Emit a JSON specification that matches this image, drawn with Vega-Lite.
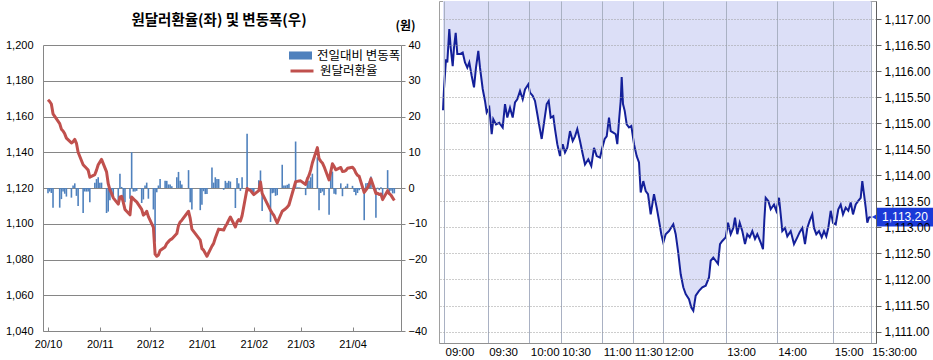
{
  "$schema": "https://vega.github.io/schema/vega-lite/v6.json",
  "padding": {"left": 5, "top": 0, "right": 0, "bottom": 0},
  "spacing": 11,
  "background": "#ffffff",
  "config": {"font": "Liberation Sans", "axis": {"labelColor": "#000000"}},
  "datasets": {
    "daily": [
      {"d":"2020-10-05","r":1169.4,"c":-1.5},{"d":"2020-10-06","r":1168.4,"c":-1.0},{"d":"2020-10-07","r":1167.0,"c":-1.4},{"d":"2020-10-08","r":1161.5,"c":-5.5},
      {"d":"2020-10-12","r":1156.0,"c":-5.5},{"d":"2020-10-13","r":1152.9,"c":-3.1},{"d":"2020-10-14","r":1151.9,"c":-1.0},{"d":"2020-10-15","r":1150.3,"c":-1.6},{"d":"2020-10-16","r":1147.9,"c":-2.4},
      {"d":"2020-10-19","r":1145.2,"c":-2.7},{"d":"2020-10-20","r":1145.9,"c":0.7},{"d":"2020-10-21","r":1147.2,"c":1.3},{"d":"2020-10-22","r":1145.0,"c":-2.2},{"d":"2020-10-23","r":1140.0,"c":-5.0},
      {"d":"2020-10-26","r":1133.0,"c":-7.0},{"d":"2020-10-27","r":1132.0,"c":-1.0},{"d":"2020-10-28","r":1131.0,"c":-1.0},{"d":"2020-10-29","r":1130.0,"c":-1.0},{"d":"2020-10-30","r":1126.0,"c":-4.0},
      {"d":"2020-11-02","r":1127.5,"c":1.5},{"d":"2020-11-03","r":1130.0,"c":2.5},{"d":"2020-11-04","r":1133.0,"c":3.0},{"d":"2020-11-05","r":1134.5,"c":1.5},{"d":"2020-11-06","r":1136.0,"c":1.5},
      {"d":"2020-11-09","r":1129.0,"c":-7.0},{"d":"2020-11-10","r":1122.4,"c":-6.6},{"d":"2020-11-11","r":1119.0,"c":-3.4},{"d":"2020-11-12","r":1117.0,"c":-2.0},{"d":"2020-11-13","r":1114.5,"c":-2.5},
      {"d":"2020-11-16","r":1111.0,"c":-3.5},{"d":"2020-11-17","r":1115.0,"c":4.0},{"d":"2020-11-18","r":1115.3,"c":0.3},{"d":"2020-11-19","r":1112.0,"c":-3.3},{"d":"2020-11-20","r":1108.0,"c":-4.0},
      {"d":"2020-11-23","r":1105.0,"c":-3.0},{"d":"2020-11-24","r":1115.0,"c":10.0},{"d":"2020-11-25","r":1114.0,"c":-1.0},{"d":"2020-11-26","r":1113.0,"c":-1.0},{"d":"2020-11-27","r":1112.2,"c":-0.8},
      {"d":"2020-11-30","r":1108.0,"c":-4.2},{"d":"2020-12-01","r":1104.8,"c":-3.2},{"d":"2020-12-02","r":1105.5,"c":0.7},{"d":"2020-12-03","r":1107.0,"c":1.5},{"d":"2020-12-04","r":1104.0,"c":-3.0},
      {"d":"2020-12-07","r":1098.0,"c":-6.0},{"d":"2020-12-08","r":1083.0,"c":-15.0},{"d":"2020-12-09","r":1081.8,"c":-1.2},{"d":"2020-12-10","r":1082.5,"c":0.7},{"d":"2020-12-11","r":1085.0,"c":2.5},
      {"d":"2020-12-14","r":1087.0,"c":2.0},{"d":"2020-12-15","r":1089.0,"c":2.0},{"d":"2020-12-16","r":1090.0,"c":1.0},{"d":"2020-12-17","r":1091.0,"c":1.0},{"d":"2020-12-18","r":1091.5,"c":0.5},
      {"d":"2020-12-21","r":1094.5,"c":3.0},{"d":"2020-12-22","r":1099.0,"c":4.5},{"d":"2020-12-23","r":1101.0,"c":2.0},{"d":"2020-12-24","r":1102.0,"c":1.0},
      {"d":"2020-12-28","r":1107.0,"c":5.0},{"d":"2020-12-29","r":1103.0,"c":-4.0},{"d":"2020-12-30","r":1097.0,"c":-6.0},
      {"d":"2021-01-04","r":1090.8,"c":-6.2},{"d":"2021-01-05","r":1086.1,"c":-4.7},{"d":"2021-01-06","r":1085.2,"c":-0.9},{"d":"2021-01-07","r":1083.5,"c":-1.7},{"d":"2021-01-08","r":1081.8,"c":-1.7},
      {"d":"2021-01-11","r":1087.5,"c":5.7},{"d":"2021-01-12","r":1089.0,"c":1.5},{"d":"2021-01-13","r":1092.0,"c":3.0},{"d":"2021-01-14","r":1094.5,"c":2.5},{"d":"2021-01-15","r":1097.0,"c":2.5},
      {"d":"2021-01-18","r":1096.5,"c":-0.5},{"d":"2021-01-19","r":1098.5,"c":2.0},{"d":"2021-01-20","r":1100.0,"c":1.5},{"d":"2021-01-21","r":1102.0,"c":2.0},{"d":"2021-01-22","r":1103.8,"c":1.8},
      {"d":"2021-01-25","r":1098.2,"c":-5.6},{"d":"2021-01-26","r":1101.0,"c":2.8},{"d":"2021-01-27","r":1102.3,"c":1.3},{"d":"2021-01-28","r":1101.5,"c":-0.8},{"d":"2021-01-29","r":1104.5,"c":3.0},
      {"d":"2021-02-01","r":1119.7,"c":15.2},{"d":"2021-02-02","r":1119.0,"c":-0.7},{"d":"2021-02-03","r":1118.7,"c":-0.3},{"d":"2021-02-04","r":1117.5,"c":-1.2},{"d":"2021-02-05","r":1116.3,"c":-1.2},
      {"d":"2021-02-08","r":1118.5,"c":2.2},{"d":"2021-02-09","r":1123.4,"c":4.9},{"d":"2021-02-10","r":1117.0,"c":-6.4},
      {"d":"2021-02-15","r":1107.5,"c":-9.5},{"d":"2021-02-16","r":1106.0,"c":-1.5},{"d":"2021-02-17","r":1104.7,"c":-1.3},{"d":"2021-02-18","r":1102.5,"c":-2.2},{"d":"2021-02-19","r":1100.5,"c":-2.0},
      {"d":"2021-02-22","r":1107.0,"c":6.5},{"d":"2021-02-23","r":1107.7,"c":0.7},{"d":"2021-02-24","r":1108.4,"c":0.7},{"d":"2021-02-25","r":1109.3,"c":0.9},{"d":"2021-02-26","r":1110.5,"c":1.2},
      {"d":"2021-03-02","r":1123.5,"c":13.0},{"d":"2021-03-03","r":1123.7,"c":0.2},{"d":"2021-03-04","r":1123.9,"c":0.2},{"d":"2021-03-05","r":1124.0,"c":0.1},
      {"d":"2021-03-08","r":1122.0,"c":-2.0},{"d":"2021-03-09","r":1125.0,"c":3.0},{"d":"2021-03-10","r":1127.0,"c":2.0},{"d":"2021-03-11","r":1130.0,"c":3.0},{"d":"2021-03-12","r":1134.0,"c":4.0},
      {"d":"2021-03-15","r":1142.6,"c":8.6},{"d":"2021-03-16","r":1136.4,"c":-6.2},{"d":"2021-03-17","r":1135.0,"c":-1.4},{"d":"2021-03-18","r":1134.0,"c":-1.0},{"d":"2021-03-19","r":1132.0,"c":-2.0},
      {"d":"2021-03-22","r":1124.5,"c":-7.5},{"d":"2021-03-23","r":1129.0,"c":4.5},{"d":"2021-03-24","r":1133.6,"c":4.6},{"d":"2021-03-25","r":1132.0,"c":-1.6},{"d":"2021-03-26","r":1130.2,"c":-1.8},
      {"d":"2021-03-29","r":1131.5,"c":1.3},{"d":"2021-03-30","r":1129.2,"c":-2.3},{"d":"2021-03-31","r":1129.3,"c":0.1},{"d":"2021-04-01","r":1129.8,"c":0.5},{"d":"2021-04-02","r":1131.0,"c":1.2},
      {"d":"2021-04-05","r":1131.6,"c":0.6},{"d":"2021-04-06","r":1130.5,"c":-1.1},{"d":"2021-04-07","r":1128.5,"c":-2.0},{"d":"2021-04-08","r":1127.1,"c":-1.4},{"d":"2021-04-09","r":1126.5,"c":-0.6},
      {"d":"2021-04-12","r":1117.5,"c":-9.0},{"d":"2021-04-13","r":1118.8,"c":1.3},{"d":"2021-04-14","r":1120.2,"c":1.4},{"d":"2021-04-15","r":1122.0,"c":1.8},{"d":"2021-04-16","r":1125.2,"c":3.2},
      {"d":"2021-04-19","r":1116.9,"c":-8.3},{"d":"2021-04-20","r":1117.0,"c":0.1},{"d":"2021-04-21","r":1116.4,"c":-0.6},{"d":"2021-04-22","r":1116.6,"c":0.2},{"d":"2021-04-23","r":1113.5,"c":-3.1},
      {"d":"2021-04-26","r":1118.5,"c":5.0},{"d":"2021-04-27","r":1116.8,"c":-1.7},{"d":"2021-04-28","r":1116.0,"c":-0.8},{"d":"2021-04-29","r":1114.5,"c":-1.5},{"d":"2021-04-30","r":1113.0,"c":-1.5}
    ],
    "intraday": [
      {"s":4.0,"p":1115.25},{"s":4.3,"p":1115.37},{"s":5.0,"p":1115.66},{"s":7.0,"p":1116.23},{"s":8.3,"p":1116.17},{"s":10.3,"p":1116.81},{"s":11.7,"p":1116.45},{"s":13.7,"p":1116.10},{"s":15.0,"p":1116.45},{"s":16.7,"p":1116.74},
      {"s":18.3,"p":1116.33},{"s":21.0,"p":1116.33},{"s":23.7,"p":1116.36},{"s":26.0,"p":1116.17},{"s":28.3,"p":1116.07},{"s":30.3,"p":1116.17},{"s":32.7,"p":1115.91},{"s":35.0,"p":1115.69},{"s":37.0,"p":1116.07},{"s":39.3,"p":1116.39},
      {"s":41.0,"p":1116.07},{"s":43.7,"p":1115.66},{"s":46.0,"p":1115.43},{"s":47.7,"p":1115.21},{"s":50.3,"p":1115.30},{"s":52.7,"p":1114.79},{"s":54.3,"p":1115.08},{"s":57.0,"p":1114.98},{"s":60.3,"p":1115.01},{"s":63.7,"p":1114.92},
      {"s":66.0,"p":1115.37},{"s":68.3,"p":1115.11},{"s":71.0,"p":1115.30},{"s":73.7,"p":1115.11},{"s":76.0,"p":1115.40},{"s":78.3,"p":1115.46},{"s":81.0,"p":1115.62},{"s":83.7,"p":1115.46},{"s":86.0,"p":1115.65},{"s":89.3,"p":1115.75},
      {"s":91.0,"p":1115.59},{"s":93.7,"p":1115.53},{"s":96.0,"p":1115.43},{"s":98.3,"p":1115.18},{"s":100.3,"p":1114.95},{"s":102.7,"p":1114.70},{"s":105.0,"p":1115.01},{"s":107.7,"p":1115.37},{"s":109.7,"p":1115.43},{"s":111.7,"p":1115.11},
      {"s":114.3,"p":1115.14},{"s":116.0,"p":1114.89},{"s":118.3,"p":1114.60},{"s":121.0,"p":1114.37},{"s":123.7,"p":1114.60},{"s":126.0,"p":1114.44},{"s":128.3,"p":1114.53},{"s":131.0,"p":1114.85},{"s":133.7,"p":1114.66},{"s":136.0,"p":1114.75},
      {"s":138.3,"p":1114.89},{"s":141.0,"p":1114.66},{"s":143.7,"p":1114.41},{"s":146.0,"p":1114.21},{"s":149.3,"p":1114.31},{"s":152.3,"p":1114.18},{"s":155.0,"p":1114.53},{"s":157.7,"p":1114.37},{"s":161.0,"p":1114.34},{"s":163.3,"p":1114.53},
      {"s":165.7,"p":1114.70},{"s":167.7,"p":1114.75},{"s":170.0,"p":1115.11},{"s":171.7,"p":1114.85},{"s":174.3,"p":1114.82},{"s":176.7,"p":1114.79},{"s":178.3,"p":1114.60},{"s":180.0,"p":1115.05},{"s":181.7,"p":1115.43},{"s":182.7,"p":1115.89},
      {"s":184.0,"p":1115.37},{"s":185.7,"p":1115.24},{"s":187.7,"p":1114.98},{"s":190.0,"p":1114.92},{"s":192.3,"p":1114.95},{"s":195.0,"p":1114.60},{"s":197.7,"p":1114.37},{"s":200.0,"p":1114.25},{"s":201.7,"p":1113.67},{"s":204.3,"p":1113.89},
      {"s":206.7,"p":1113.70},{"s":209.0,"p":1113.64},{"s":211.7,"p":1113.25},{"s":215.0,"p":1113.64},{"s":217.7,"p":1113.38},{"s":220.0,"p":1113.13},{"s":222.3,"p":1112.87},{"s":224.3,"p":1112.71},{"s":226.7,"p":1112.87},{"s":230.0,"p":1112.93},
      {"s":234.3,"p":1113.06},{"s":236.7,"p":1112.87},{"s":239.0,"p":1112.55},{"s":241.7,"p":1112.10},{"s":244.3,"p":1111.85},{"s":246.7,"p":1111.72},{"s":250.0,"p":1111.62},{"s":252.3,"p":1111.46},{"s":254.3,"p":1111.40},{"s":256.7,"p":1111.69},
      {"s":260.0,"p":1111.78},{"s":263.3,"p":1111.85},{"s":266.7,"p":1111.88},{"s":270.0,"p":1112.04},{"s":271.7,"p":1112.36},{"s":274.3,"p":1112.42},{"s":276.7,"p":1112.36},{"s":279.0,"p":1112.30},{"s":281.0,"p":1112.68},{"s":283.3,"p":1112.74},
      {"s":286.7,"p":1112.81},{"s":289.0,"p":1113.09},{"s":291.7,"p":1112.87},{"s":294.3,"p":1112.99},{"s":296.0,"p":1113.19},{"s":298.3,"p":1112.87},{"s":300.7,"p":1113.09},{"s":303.3,"p":1112.93},{"s":306.0,"p":1112.68},{"s":308.3,"p":1112.87},
      {"s":310.7,"p":1112.81},{"s":313.3,"p":1112.93},{"s":316.0,"p":1112.78},{"s":318.3,"p":1112.87},{"s":321.7,"p":1112.71},{"s":324.0,"p":1112.58},{"s":325.3,"p":1113.13},{"s":326.7,"p":1113.57},{"s":329.3,"p":1113.51},{"s":331.7,"p":1113.35},
      {"s":335.0,"p":1113.44},{"s":337.3,"p":1113.32},{"s":340.0,"p":1113.57},{"s":341.7,"p":1113.25},{"s":343.3,"p":1112.93},{"s":346.0,"p":1112.99},{"s":348.3,"p":1112.83},{"s":351.7,"p":1112.93},{"s":355.0,"p":1112.68},{"s":358.3,"p":1112.81},
      {"s":360.7,"p":1112.91},{"s":363.3,"p":1112.99},{"s":366.0,"p":1112.68},{"s":368.3,"p":1112.99},{"s":370.7,"p":1113.13},{"s":373.3,"p":1113.25},{"s":375.0,"p":1112.99},{"s":377.3,"p":1112.87},{"s":380.0,"p":1112.93},{"s":382.7,"p":1112.81},
      {"s":385.0,"p":1112.93},{"s":387.3,"p":1112.83},{"s":389.3,"p":1112.99},{"s":391.7,"p":1113.32},{"s":394.0,"p":1113.09},{"s":396.7,"p":1113.06},{"s":399.3,"p":1113.35},{"s":401.7,"p":1113.44},{"s":404.0,"p":1113.25},{"s":406.7,"p":1113.38},
      {"s":409.3,"p":1113.32},{"s":411.7,"p":1113.48},{"s":414.0,"p":1113.25},{"s":416.7,"p":1113.44},{"s":419.3,"p":1113.51},{"s":421.7,"p":1113.57},{"s":423.3,"p":1113.89},{"s":425.0,"p":1113.64},{"s":426.7,"p":1113.38},{"s":428.3,"p":1113.09},
      {"s":430.0,"p":1113.19},{"s":431.7,"p":1113.2}
    ],
    "tag": [{"p":1113.2,"lo":1113.02,"hi":1113.38,"label":"1,113.20"}]
  },
  "hconcat": [
    {
      "spacing": 0,
      "vconcat": [
        {
          "width": 358,
          "height": 11,
          "view": {"stroke": null},
          "data": {"values": [{}]},
          "mark": {"type": "point", "opacity": 0}
        },
        {
          "width": 358,
          "height": 286,
          "view": {"stroke": null},
          "title": {"text": "원달러환율(좌) 및 변동폭(우)", "font": "Noto Sans CJK KR", "fontSize": 14.5, "fontWeight": "bold", "color": "#000000", "anchor": "middle", "offset": -9, "dx": -3},
          "data": {"name": "daily"},
          "layer": [
            {
              "mark": {"type": "bar", "size": 1.6},
              "encoding": {
                "x": {"field": "d", "type": "temporal",
                  "scale": {"type": "utc", "domain": [{"year": 2020, "month": 10, "date": 5, "utc": true}, {"year": 2021, "month": 5, "date": 1, "utc": true}]},
                  "axis": {"title": null, "grid": false, "format": "%y/%m", "labelFontSize": 11, "labelPadding": 11, "domainColor": "#868686", "tickColor": "#868686", "tickSize": -4,
                    "values": [{"year": 2020, "month": 10, "date": 5, "utc": true}, {"year": 2020, "month": 11, "date": 5, "utc": true}, {"year": 2020, "month": 12, "date": 5, "utc": true}, {"year": 2021, "month": 1, "date": 5, "utc": true}, {"year": 2021, "month": 2, "date": 5, "utc": true}, {"year": 2021, "month": 3, "date": 5, "utc": true}, {"year": 2021, "month": 4, "date": 5, "utc": true}]}},
                "y": {"field": "c", "type": "quantitative", "scale": {"domain": [-40, 40], "nice": false},
                  "axis": {"orient": "right", "values": [-40, -30, -20, -10, 0, 10, 20, 30, 40], "grid": false, "labelFontSize": 11, "labelPadding": 3, "domainColor": "#868686", "tickColor": "#868686", "tickSize": 4,
                    "title": "(원)", "titleAngle": 0, "titleX": 4, "titleY": -20, "titleAlign": "center", "titleBaseline": "middle", "titleFont": "Noto Sans CJK KR", "titleFontSize": 12, "titleFontWeight": "bold", "titleColor": "#000000"}},
                "fill": {"datum": "전일대비 변동폭", "scale": {"range": ["#4f81bd"]},
                  "legend": {"orient": "none", "legendX": 246, "legendY": 43, "title": null, "padding": 0, "symbolType": "M-1,-0.35H1V0.35H-1Z", "symbolSize": 529, "symbolStrokeWidth": 0, "labelFont": "Noto Sans CJK KR", "labelFontSize": 12.5, "labelOffset": 5, "labelColor": "#000000"}}
              }
            },
            {
              "mark": {"type": "line", "strokeWidth": 3, "strokeJoin": "round"},
              "encoding": {
                "x": {"field": "d", "type": "temporal"},
                "y": {"field": "r", "type": "quantitative", "scale": {"domain": [1040, 1200], "nice": false, "zero": false},
                  "axis": {"orient": "left", "values": [1040, 1060, 1080, 1100, 1120, 1140, 1160, 1180, 1200], "format": ",.0f", "grid": true, "gridColor": "#868686", "domainColor": "#868686", "ticks": false, "labelPadding": 10, "labelFontSize": 11, "title": null}},
                "stroke": {"datum": "원달러환율", "scale": {"range": ["#c0504d"]},
                  "legend": {"orient": "none", "legendX": 246, "legendY": 57, "title": null, "padding": 0, "symbolType": "stroke", "symbolSize": 529, "symbolStrokeWidth": 3, "labelFont": "Noto Sans CJK KR", "labelFontSize": 12.5, "labelOffset": 5, "labelColor": "#000000"}}
              }
            }
          ],
          "resolve": {"scale": {"y": "independent"}}
        }
      ]
    },
    {
      "width": 437,
      "height": 342,
      "view": {"stroke": "#a0a0a0"},
      "layer": [
        {
          "data": {"name": "intraday"},
          "mark": {"type": "area", "color": "#dcdff7", "opacity": 1},
          "encoding": {
            "x": {"field": "s", "type": "quantitative", "scale": {"domain": [0, 437], "nice": false, "zero": false},
              "axis": {"title": null, "values": [5, 48.7, 90.3, 121.7, 163.3, 194.3, 224.3, 286.7, 337.7, 394.3, 431.7],
                "labelExpr": "['09:00','09:30','10:00','10:30','11:00','11:30','12:00','13:00','14:00','15:00','15:30:00'][indexof([5, 48.7, 90.3, 121.7, 163.3, 194.3, 224.3, 286.7, 337.7, 394.3, 431.7], datum.value)]",
                "labelAlign": "left", "labelOffset": 1, "labelPadding": 3, "labelOverlap": false, "labelFlush": false, "labelFontSize": 11.5, "ticks": false,
                "grid": true, "gridColor": "#a9b1c3", "domainColor": "#909090", "zindex": 1}},
            "y": {"field": "p", "type": "quantitative", "scale": {"domain": [1110.78, 1117.35], "nice": false, "zero": false},
              "axis": {"title": null, "orient": "right", "values": [1111, 1111.5, 1112, 1112.5, 1113, 1113.5, 1114, 1114.5, 1115, 1115.5, 1116, 1116.5, 1117], "format": ",.2f", "labelOverlap": false,
                "grid": true, "gridColor": "#9a9a9a", "gridDash": [1, 2], "domainColor": "#606060", "tickColor": "#606060", "tickSize": 5, "labelPadding": 3, "labelFontSize": 12, "zindex": 1}},
            "y2": {"datum": 1117.35}
          }
        },
        {
          "data": {"name": "intraday"},
          "mark": {"type": "line", "color": "#14209a", "strokeWidth": 2},
          "encoding": {
            "x": {"field": "s", "type": "quantitative"},
            "y": {"field": "p", "type": "quantitative",
              "axis": {"title": null, "orient": "right", "values": [1111, 1111.5, 1112, 1112.5, 1113, 1113.5, 1114, 1114.5, 1115, 1115.5, 1116, 1116.5, 1117], "format": ",.2f", "labelOverlap": false,
                "grid": true, "gridColor": "#9a9a9a", "gridDash": [1, 2], "domainColor": "#606060", "tickColor": "#606060", "tickSize": 5, "labelPadding": 3, "labelFontSize": 12, "zindex": 1}}
          }
        },
        {
          "data": {"name": "tag"},
          "mark": {"type": "rect", "color": "#1a3ad8", "opacity": 1, "clip": false},
          "encoding": {
            "x": {"datum": 438, "type": "quantitative"},
            "x2": {"datum": 495},
            "y": {"field": "lo", "type": "quantitative",
              "axis": {"title": null, "orient": "right", "values": [1111, 1111.5, 1112, 1112.5, 1113, 1113.5, 1114, 1114.5, 1115, 1115.5, 1116, 1116.5, 1117], "format": ",.2f", "labelOverlap": false,
                "grid": true, "gridColor": "#9a9a9a", "gridDash": [1, 2], "domainColor": "#606060", "tickColor": "#606060", "tickSize": 5, "labelPadding": 3, "labelFontSize": 12, "zindex": 1}},
            "y2": {"field": "hi"}
          }
        },
        {
          "data": {"name": "tag"},
          "mark": {"type": "point", "shape": "triangle-left", "size": 90, "filled": true, "color": "#1a3ad8", "opacity": 1, "clip": false},
          "encoding": {"x": {"datum": 437, "type": "quantitative"},
            "y": {"field": "p", "type": "quantitative",
              "axis": {"title": null, "orient": "right", "values": [1111, 1111.5, 1112, 1112.5, 1113, 1113.5, 1114, 1114.5, 1115, 1115.5, 1116, 1116.5, 1117], "format": ",.2f", "labelOverlap": false,
                "grid": true, "gridColor": "#9a9a9a", "gridDash": [1, 2], "domainColor": "#606060", "tickColor": "#606060", "tickSize": 5, "labelPadding": 3, "labelFontSize": 12, "zindex": 1}}}
        },
        {
          "data": {"name": "tag"},
          "mark": {"type": "text", "color": "#ffffff", "fontSize": 12, "align": "center", "baseline": "middle", "clip": false},
          "encoding": {"x": {"datum": 466, "type": "quantitative"},
            "y": {"field": "p", "type": "quantitative",
              "axis": {"title": null, "orient": "right", "values": [1111, 1111.5, 1112, 1112.5, 1113, 1113.5, 1114, 1114.5, 1115, 1115.5, 1116, 1116.5, 1117], "format": ",.2f", "labelOverlap": false,
                "grid": true, "gridColor": "#9a9a9a", "gridDash": [1, 2], "domainColor": "#606060", "tickColor": "#606060", "tickSize": 5, "labelPadding": 3, "labelFontSize": 12, "zindex": 1}},
            "text": {"field": "label"}}
        }
      ]
    }
  ]
}
